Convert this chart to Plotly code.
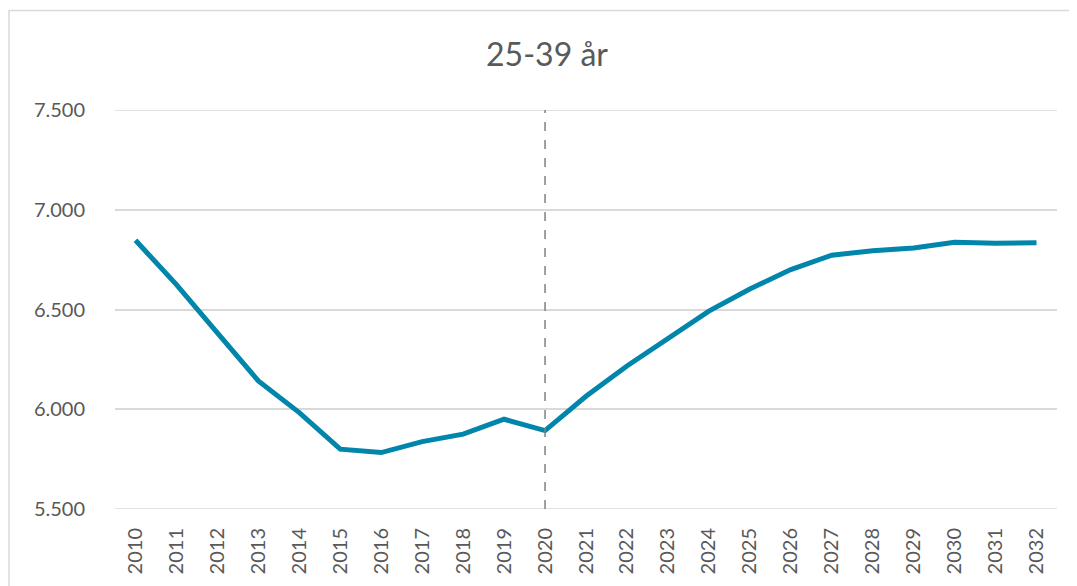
import plotly.graph_objects as go

years = [str(y) for y in range(2010, 2033)]
values = [6847, 6625, 6383, 6142, 5983, 5800, 5783, 5838, 5875, 5950, 5893,
          6065, 6217, 6358, 6492, 6603, 6700, 6772, 6795, 6808, 6837, 6832, 6835]
title_text = "25-39 år"
marker_year = "2020"
y_ticks = [5500, 6000, 6500, 7000, 7500]

# page body has an 8px margin, so the figure is laid out 8px smaller
W, H = 1069, 578
L, R, T, B = 107, 20, 102, 75
pw, ph = W - L - R, H - T - B

fig = go.Figure()
fig.add_trace(go.Scatter(
    x=years, y=values, mode="lines",
    line=dict(color="#0086AB", width=5),
    hoverinfo="x+y", showlegend=False,
))

# gridlines at the range edges (plotly hides them at the boundary)
for yv in (y_ticks[0], y_ticks[-1]):
    fig.add_shape(type="line", xref="paper", yref="y", x0=0, x1=1, y0=yv, y1=yv,
                  line=dict(color="#d9d9d9", width=1.5), layer="below")

# vertical dashed marker line (category index on a category axis)
mi = years.index(marker_year)
fig.add_shape(type="line", xref="x", yref="y",
              x0=mi, x1=mi, y0=y_ticks[0], y1=y_ticks[-1],
              line=dict(color="#808080", width=1.5, dash="dash"), layer="above")

# outer chart border
fig.add_shape(type="rect", xref="paper", yref="paper",
              x0=(1 - L) / pw, x1=(W + 5 - L) / pw,
              y0=(H - B - (H + 5)) / ph, y1=(H - B - 2) / ph,
              line=dict(color="#d9d9d9", width=1.5), fillcolor="rgba(0,0,0,0)",
              layer="below")

fig.update_layout(
    width=W, height=H,
    margin=dict(l=L, r=R, t=T, b=B),
    paper_bgcolor="white", plot_bgcolor="white",
    separators=",.",
    font=dict(family="Lato, Carlito, Calibri, sans-serif", color="#595959", size=20),
    title=dict(text=title_text, x=539 / W, xanchor="center",
               y=1 - 47 / H, yanchor="middle",
               font=dict(size=32, color="#595959")),
    xaxis=dict(
        type="category", tickangle=-90, showgrid=False, zeroline=False,
        showline=False, ticks="", tickfont=dict(size=20, color="#595959"),
        ticklabelstandoff=14, range=[-0.5, len(years) - 0.5],
    ),
    yaxis=dict(
        range=[5500, 7500], tickvals=y_ticks, tickformat=",d",
        showgrid=True, gridcolor="#d9d9d9", gridwidth=1.5,
        zeroline=False, showline=False, ticks="",
        tickfont=dict(size=20, color="#595959"),
        ticklabelstandoff=29,
    ),
)

fig.write_html("out.html")
